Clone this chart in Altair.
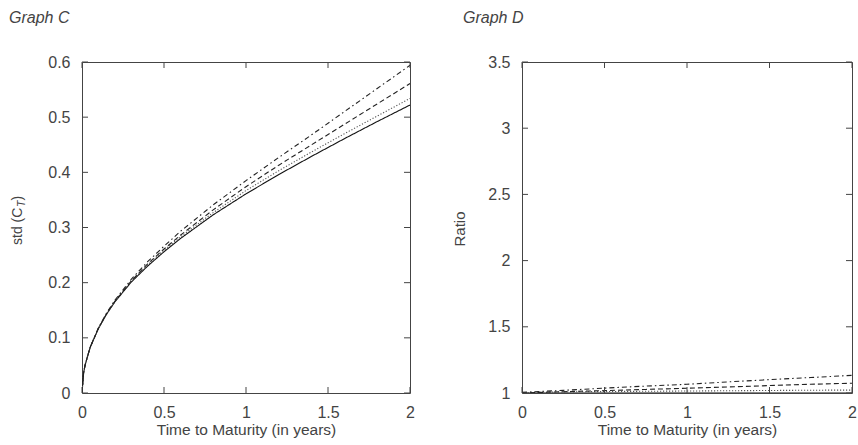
import altair as alt
import pandas as pd

# ---- data ----
series_names = ["solid", "dotted", "dashed", "dashdot"]

t_left = [0, 0.01, 0.02, 0.05, 0.1, 0.15, 0.2, 0.3, 0.4, 0.5, 0.6, 0.8, 1.0, 1.2, 1.4, 1.6, 1.8, 2.0]
std_solid = [0, 0.037, 0.052, 0.083, 0.117, 0.143, 0.165, 0.201, 0.230, 0.256, 0.280, 0.323, 0.361, 0.396, 0.429, 0.461, 0.492, 0.522]
std_dotted = [0, 0.037, 0.052, 0.083, 0.117, 0.143, 0.166, 0.202, 0.232, 0.259, 0.283, 0.327, 0.367, 0.403, 0.437, 0.470, 0.502, 0.534]
std_dashed = [0, 0.037, 0.052, 0.083, 0.117, 0.144, 0.166, 0.203, 0.234, 0.261, 0.286, 0.332, 0.374, 0.413, 0.450, 0.487, 0.524, 0.561]
std_dashdot = [0, 0.037, 0.052, 0.083, 0.118, 0.145, 0.168, 0.206, 0.238, 0.266, 0.293, 0.341, 0.385, 0.427, 0.468, 0.510, 0.552, 0.594]

t_right = [0, 0.25, 0.5, 0.75, 1.0, 1.25, 1.5, 1.75, 2.0]
ratio_solid = [1.0, 1.0, 1.0, 1.0, 1.0, 1.0, 1.0, 1.0, 1.0]
ratio_dotted = [1.003, 1.008, 1.011, 1.013, 1.015, 1.017, 1.019, 1.021, 1.022]
ratio_dashed = [1.0, 1.01, 1.018, 1.027, 1.036, 1.046, 1.056, 1.066, 1.074]
ratio_dashdot = [1.005, 1.02, 1.037, 1.052, 1.066, 1.084, 1.101, 1.117, 1.133]

x_ticks = [0, 0.5, 1, 1.5, 2]
left_y_ticks = [0, 0.1, 0.2, 0.3, 0.4, 0.5, 0.6]
right_y_ticks = [1, 1.5, 2, 2.5, 3, 3.5]

titles = ["Graph C", "Graph D"]
x_title = "Time to Maturity (in years)"
left_y_title_parts = ["std (C", "T", ")"]
right_y_title = "Ratio"

# ---- build tables ----
def long_table(t, cols):
    rows = []
    for name, vals in zip(series_names, cols):
        for ti, v in zip(t, vals):
            rows.append({"t": ti, "v": v, "s": name})
    return pd.DataFrame(rows)

left_df = long_table(t_left, [std_solid, std_dotted, std_dashed, std_dashdot])
right_df = long_table(t_right, [ratio_solid, ratio_dotted, ratio_dashed, ratio_dashdot])

W_L, W_R, H = 328, 330, 331
FONT = "Liberation Sans"
TXT = "#444444"

dash_scale = alt.Scale(domain=series_names,
                       range=[[1, 0], [1.2, 1.8], [5, 3], [5, 3, 1.5, 3]])
color_scale = alt.Scale(domain=series_names,
                        range=["#111111", "#555555", "#222222", "#222222"])


def panel(df, ydom, yticks, width, title_text, title_dx, ytitle_layers):
    xs = alt.Scale(domain=[0, 2], nice=False, zero=False)
    ys = alt.Scale(domain=ydom, nice=False, zero=False)
    xaxis = alt.Axis(values=x_ticks, title=x_title, ticks=False, domain=False, grid=False,
                     format="~g",
                     labelPadding=11, titlePadding=2, labelFontSize=16, titleFontSize=15.5,
                     labelFont=FONT, titleFont=FONT, labelColor=TXT, titleColor=TXT,
                     titleFontWeight="normal", labelFlush=False)
    yaxis = alt.Axis(values=yticks, title=None, ticks=False, domain=False, grid=False,
                     format="~g",
                     labelPadding=12, labelFontSize=16, labelFont=FONT, labelColor=TXT,
                     labelFlush=False)
    lines = alt.Chart(df).mark_line(strokeWidth=1.1, clip=True).encode(
        x=alt.X("t:Q", scale=xs, axis=xaxis),
        y=alt.Y("v:Q", scale=ys, axis=yaxis),
        strokeDash=alt.StrokeDash("s:N", scale=dash_scale, legend=None),
        color=alt.Color("s:N", scale=color_scale, legend=None),
        detail="s:N",
    )
    xt = pd.DataFrame({"tick": x_ticks})
    yt = pd.DataFrame({"tick": yticks})
    tick_style = dict(color="#444444", strokeWidth=1)
    bottom = alt.Chart(xt).mark_rule(**tick_style).encode(
        x=alt.X("tick:Q", scale=xs), y=alt.value(H), y2=alt.value(H - 6))
    top = alt.Chart(xt).mark_rule(**tick_style).encode(
        x=alt.X("tick:Q", scale=xs), y=alt.value(0), y2=alt.value(6))
    left = alt.Chart(yt).mark_rule(**tick_style).encode(
        y=alt.Y("tick:Q", scale=ys), x=alt.value(0), x2=alt.value(6))
    right = alt.Chart(yt).mark_rule(**tick_style).encode(
        y=alt.Y("tick:Q", scale=ys), x=alt.value(width - 6), x2=alt.value(width))
    ttl = alt.Chart(pd.DataFrame({"label": [title_text]})).mark_text(
        align="left", baseline="alphabetic", fontStyle="italic", fontSize=16,
        font=FONT, color=TXT).encode(
        text="label:N", x=alt.value(title_dx), y=alt.value(-39))
    return alt.layer(lines, bottom, top, left, right, ttl, *ytitle_layers).properties(
        width=width, height=H)


# left y title: "std (C" + subscript T + ")"
yl_main = alt.Chart(pd.DataFrame({"label": [left_y_title_parts[0]]})).mark_text(
    angle=270, align="left", baseline="middle", fontSize=14, font=FONT, color=TXT).encode(
    text="label:N", x=alt.value(-64), y=alt.value(183))
yl_sub = alt.Chart(pd.DataFrame({"label": [left_y_title_parts[1]]})).mark_text(
    angle=270, align="left", baseline="middle", fontSize=10.5, font=FONT, color=TXT,
    fontStyle="italic").encode(
    text="label:N", x=alt.value(-60.5), y=alt.value(145))
yl_close = alt.Chart(pd.DataFrame({"label": [left_y_title_parts[2]]})).mark_text(
    angle=270, align="left", baseline="middle", fontSize=14, font=FONT, color=TXT).encode(
    text="label:N", x=alt.value(-64), y=alt.value(138.5))

yr = alt.Chart(pd.DataFrame({"label": [right_y_title]})).mark_text(
    angle=270, align="center", baseline="middle", fontSize=15, font=FONT, color=TXT).encode(
    text="label:N", x=alt.value(-62), y=alt.value(167))

left_panel = panel(left_df, [0, 0.6], left_y_ticks, W_L, titles[0], -73,
                   [yl_main, yl_sub, yl_close])
right_panel = panel(right_df, [1, 3.5], right_y_ticks, W_R, titles[1], -59, [yr])

chart = alt.hconcat(left_panel, right_panel, spacing=112, bounds="flush").properties(
    padding={"left": 8, "top": 9, "right": 0, "bottom": 0},
    background="white",
).configure_view(stroke="#444444", strokeWidth=1)

chart.save("out.html", embed_options={"renderer": "svg", "actions": False})
